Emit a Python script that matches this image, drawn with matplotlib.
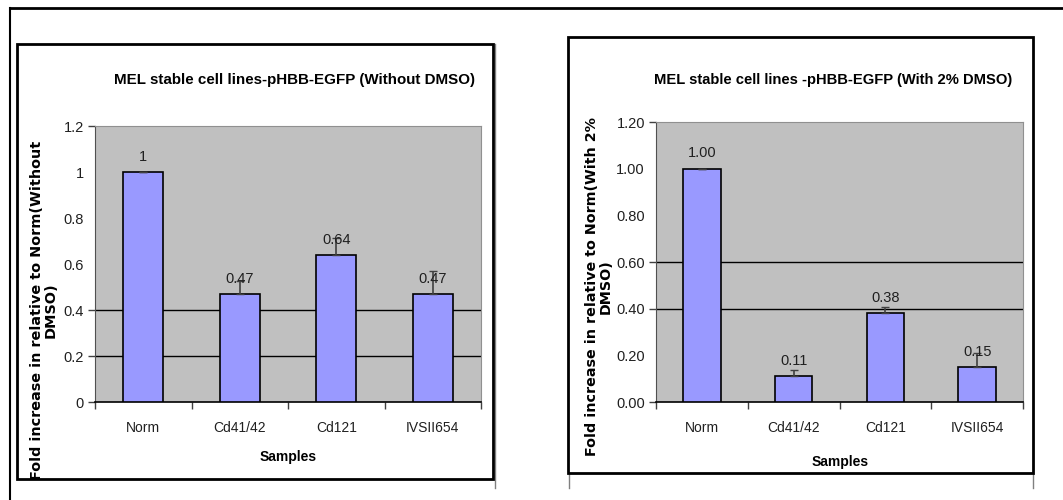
import matplotlib.pyplot as plt
from matplotlib.patches import Rectangle
from matplotlib.lines import Line2D
from matplotlib.ticker import FixedLocator

# dados
samples = ["Norm", "Cd41/42", "Cd121", "IVSII654"]

vals_sem = [1.0, 0.47, 0.64, 0.47]
err_sem = [0.0, 0.057, 0.075, 0.10]
lab_sem = ["1", "0.47", "0.64", "0.47"]

vals_com = [1.0, 0.11, 0.38, 0.15]
err_com = [0.0, 0.027, 0.026, 0.06]
lab_com = ["1.00", "0.11", "0.38", "0.15"]

yticks = [0, 0.2, 0.4, 0.6, 0.8, 1.0, 1.2]

W, H = 1063, 500
plt.rcParams["font.family"] = ["Liberation Sans", "DejaVu Sans"]

fig = plt.figure(figsize=(W / 100, H / 100), dpi=100)


def fx(x):
    return x / W


def fy(y):
    return 1 - y / H


def moldura(x0, y0, x1, y1, lw=2):
    fig.add_artist(Rectangle((fx(x0), fy(y1)), fx(x1 - x0), (y1 - y0) / H,
                             transform=fig.transFigure, fill=False,
                             edgecolor="black", linewidth=lw, zorder=10))


def linha(xs, ys, c="black", lw=1.5):
    fig.add_artist(Line2D([fx(x) for x in xs], [fy(y) for y in ys],
                          transform=fig.transFigure, color=c, linewidth=lw))


# bordas externas
linha([10, W], [8, 8], lw=2)
linha([10, 10], [8, H], lw=1.5)
moldura(17, 44, 493, 479)
moldura(568, 37, 1033, 473)
linha([495, 495], [44, 488], c="#808080", lw=1)
linha([569, 569], [473, 488], c="#808080", lw=1)
linha([1033, 1033], [473, 488], c="#808080", lw=1)


def painel(rect, vals, errs, labs, fmt, grid, ticks_vis):
    ax = fig.add_axes(rect)
    ax.set_facecolor("#c0c0c0")
    x = range(len(samples))
    ax.bar(x, vals, width=0.41, color="#9999ff", edgecolor="black",
           linewidth=1.2, zorder=3)
    ax.errorbar(x, vals, yerr=[[0] * len(errs), errs], fmt="none",
                ecolor="#404040", elinewidth=1.2, capsize=3, zorder=4)
    for xi, v, t in zip(x, vals, labs):
        ax.annotate(t, (xi, v), xytext=(0, 11), textcoords="offset points",
                    ha="center", va="center", fontsize=10.5, color="#202020",
                    zorder=5)
    for g in grid:
        ax.axhline(g, color="black", linewidth=1, zorder=1)
    ax.set_xlim(-0.5, len(samples) - 0.5)
    ax.set_ylim(0, 1.2)
    ax.set_yticks(yticks)
    ax.set_yticklabels([fmt.format(t) for t in yticks])
    ax.set_xticks(list(x))
    ax.set_xticklabels(samples)
    ax.xaxis.set_minor_locator(FixedLocator([i - 0.5 for i in range(len(samples) + 1)]))
    ax.tick_params(axis="x", which="major", length=0, pad=14, labelsize=10,
                   labelcolor="#202020")
    ax.tick_params(axis="x", which="minor", length=5, width=1, color="#404040")
    ax.tick_params(axis="y", length=5, width=1, pad=3, labelsize=10.5,
                   labelcolor="#202020", color="#404040")
    for t, v in zip(ax.yaxis.get_major_ticks(), yticks):
        if v not in ticks_vis:
            t.tick1line.set_visible(False)
    for s in ["top", "right"]:
        ax.spines[s].set_color("#909090")
    ax.spines["left"].set_color("#505050")
    ax.spines["bottom"].set_color("black")
    ax.spines["bottom"].set_linewidth(1.2)
    return ax


painel([fx(95), fy(402), fx(481 - 95), (402 - 126) / H], vals_sem, err_sem,
       lab_sem, "{:g}", [0.2, 0.4], [0, 0.2, 0.4, 1.2])
painel([fx(656), fy(402), fx(1023 - 656), (402 - 122) / H], vals_com, err_com,
       lab_com, "{:.2f}", [0.4, 0.6], [0, 0.4, 0.6, 1.2])

# titulos
fig.text(fx(294), fy(80), "MEL stable cell lines-pHBB-EGFP (Without DMSO)",
         ha="center", va="center", fontsize=10.9, fontweight="bold")
fig.text(fx(833), fy(80), "MEL stable cell lines -pHBB-EGFP (With 2% DMSO)",
         ha="center", va="center", fontsize=10.6, fontweight="bold")

# eixos
fig.text(fx(288), fy(457), "Samples", ha="center", va="center",
         fontsize=10, fontweight="bold")
fig.text(fx(840), fy(462), "Samples", ha="center", va="center",
         fontsize=10, fontweight="bold")
fig.text(fx(44), fy(310), "Fold increase in relative to Norm(Without\nDMSO)",
         rotation=90, ha="center", va="center", multialignment="center",
         fontsize=10.4, fontweight="bold", family=["DejaVu Sans"],
         linespacing=0.95)
fig.text(fx(599), fy(287), "Fold increase in relative to Norm(With 2%\nDMSO)",
         rotation=90, ha="center", va="center", multialignment="center",
         fontsize=10.3, fontweight="bold", family=["DejaVu Sans"],
         linespacing=0.95)

fig.savefig("out.png", dpi=100)
